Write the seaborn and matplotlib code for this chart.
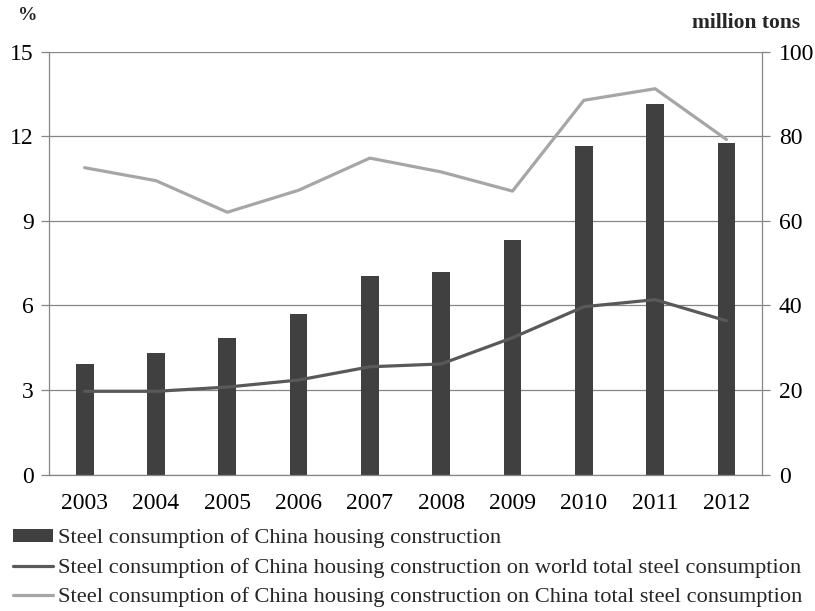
import matplotlib
matplotlib.use("Agg")
import matplotlib.pyplot as plt
from matplotlib.patches import Patch
from matplotlib.lines import Line2D
import seaborn as sns

years = ["2003", "2004", "2005", "2006", "2007", "2008", "2009", "2010", "2011", "2012"]
housing_steel_mt = [26.1, 28.7, 32.3, 37.9, 46.9, 47.8, 55.5, 77.7, 87.6, 78.3]
share_world_pct = [2.95, 2.95, 3.1, 3.35, 3.82, 3.92, 4.85, 5.95, 6.2, 5.45]
share_china_pct = [10.88, 10.42, 9.3, 10.08, 11.22, 10.73, 10.05, 13.27, 13.68, 11.88]

left_ticks = [0, 3, 6, 9, 12, 15]
right_ticks = [0, 20, 40, 60, 80, 100]

legend_labels = [
    "Steel consumption of China housing construction",
    "Steel consumption of China housing construction on world total steel consumption",
    "Steel consumption of China housing construction on China total steel consumption",
]

BAR_C = "#404040"
WORLD_C = "#595959"
CHINA_C = "#a6a6a6"
AXIS_C = "#868686"

sns.set_theme(style="white")
plt.rcParams["font.family"] = ["Liberation Serif", "DejaVu Serif"]
FS = 17
LEG_FS = 16.1

fig = plt.figure(figsize=(8.15, 6.11), dpi=100)
ax1 = fig.add_axes([0.0601, 0.2234, 0.875, 0.6923])
ax2 = ax1.twinx()

# bars in million tons on the right axis
sns.barplot(x=years, y=housing_steel_mt, ax=ax2, color=BAR_C, saturation=1,
            width=0.25, edgecolor="none")
ax2.set_ylim(0, 100)
ax2.set_yticks(right_ticks)
ax2.yaxis.grid(True, color=AXIS_C, linewidth=0.9)
ax2.set_axisbelow(True)

# share lines in percent on the left axis, drawn over the bars
for vals, col in [(share_world_pct, WORLD_C), (share_china_pct, CHINA_C)]:
    sns.pointplot(x=years, y=vals, ax=ax1, color=col, markers="", linestyles="-",
                  errorbar=None, linewidth=2.3)
ax1.set_ylim(0, 15)
ax1.set_yticks(left_ticks)
ax1.set_xlim(-0.5, len(years) - 0.5)
ax2.set_xlim(-0.5, len(years) - 0.5)
ax1.set_zorder(ax2.get_zorder() + 1)
ax1.patch.set_visible(False)
ax1.grid(False)

for ax in (ax1, ax2):
    ax.set_xlabel("")
    ax.set_ylabel("")
    for s in ax.spines.values():
        s.set_visible(False)

ax1.spines["left"].set_visible(True)
ax1.spines["bottom"].set_visible(True)
ax2.spines["right"].set_visible(True)
for s in (ax1.spines["left"], ax1.spines["bottom"], ax2.spines["right"]):
    s.set_color(AXIS_C)
    s.set_linewidth(0.9)

# category boundary ticks on the x axis
ax1.set_xticks([i for i in range(len(years))])
ax1.set_xticklabels(years)
ax1.set_xticks([i - 0.5 for i in range(len(years) + 1)], minor=True)
ax1.tick_params(axis="x", which="major", length=0, labelsize=FS, pad=13, colors="black")
ax1.tick_params(axis="x", which="minor", length=6, width=0.9, color=AXIS_C, direction="out")
ax1.tick_params(axis="y", length=6, width=0.9, color=AXIS_C, labelsize=FS, pad=5,
                labelcolor="black", left=True)
ax2.tick_params(axis="y", length=6, width=0.9, color=AXIS_C, labelsize=FS, pad=6,
                labelcolor="black", right=True)
ax2.tick_params(axis="x", bottom=False, labelbottom=False)

fig.text(0.022, 0.975, "%", fontsize=14, fontweight="bold", ha="left", va="center")
fig.text(0.982, 0.963, "million tons", fontsize=15.5, fontweight="bold", ha="right", va="center")

handles = [
    Patch(facecolor=BAR_C, edgecolor="none"),
    Line2D([], [], color=WORLD_C, linewidth=2.3),
    Line2D([], [], color=CHINA_C, linewidth=2.3),
]
fig.legend(handles, legend_labels, loc="upper left", bbox_to_anchor=(0.016, 0.135),
           frameon=False, fontsize=LEG_FS, handlelength=1.8, handleheight=0.5,
           handletextpad=0.2, labelspacing=0.42, borderpad=0, borderaxespad=0)

fig.savefig("out.png", dpi=100)
